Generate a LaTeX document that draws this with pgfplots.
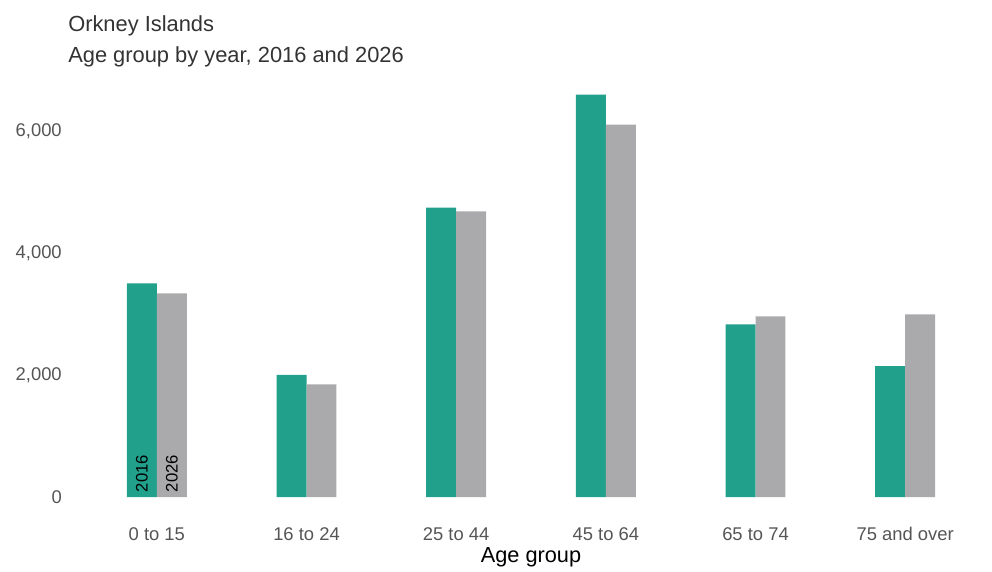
\documentclass[border=0pt]{standalone}
\usepackage{pgfplots}
\pgfplotsset{compat=1.18}
\usepackage{fontspec}
\setmainfont{Liberation Sans}
\definecolor{teal16}{HTML}{21A08B}
\definecolor{grey26}{HTML}{AAAAAC}
\definecolor{tickgrey}{HTML}{555555}
\begin{document}
\begin{tikzpicture}[x=0.75pt,y=0.75pt]
\begin{axis}[
  at={(61.5pt,54.75pt)}, anchor=south west,
  scale only axis, width=673.5pt, height=310.5pt,
  xmin=-0.5, xmax=5.5, ymin=0, ymax=6800,
  axis line style={draw=none},
  tick style={draw=none},
  xtick={0,1,2,3,4,5},
  xticklabels={0 to 15,16 to 24,25 to 44,45 to 64,65 to 74,75 and over},
  ytick={0,2000,4000,6000},
  /pgf/number format/1000 sep={,},
  /pgf/number format/assume math mode=true,
  scaled y ticks=false,
  ticklabel style={font=\fontsize{13.8}{16}\selectfont, text=tickgrey, inner sep=0pt},
  xticklabel style={anchor=center, yshift=-23.5pt},
  yticklabel style={anchor=east, xshift=-15pt},
  xlabel={Age group},
  xlabel style={font=\fontsize{16.3}{18}\selectfont, at={(axis description cs:0.5,0)}, anchor=center, yshift=-45.5pt},
  ybar=0pt, bar width=0.2,
]
\addplot[fill=teal16, draw=none, bar shift=-0.1] coordinates {(0,3510) (1,2005) (2,4755) (3,6610) (4,2835) (5,2150)};
\addplot[fill=grey26, draw=none, bar shift=0.1] coordinates {(0,3345) (1,1850) (2,4690) (3,6115) (4,2965) (5,3000)};
\node[rotate=90, anchor=west, font=\fontsize{12.5}{14}\selectfont, inner sep=0pt] at (axis cs:-0.1,75) {2016};
\node[rotate=90, anchor=west, font=\fontsize{12.5}{14}\selectfont, inner sep=0pt] at (axis cs:0.1,75) {2026};
\end{axis}
\path (0,0) rectangle (992,570);
\node[anchor=base west, font=\fontsize{16.4}{18}\selectfont, text=black!80, inner sep=0pt] at (68,538) {Orkney Islands};
\node[anchor=base west, font=\fontsize{16.4}{18}\selectfont, text=black!80, inner sep=0pt] at (68,507) {Age group by year, 2016 and 2026};
\end{tikzpicture}
\end{document}
